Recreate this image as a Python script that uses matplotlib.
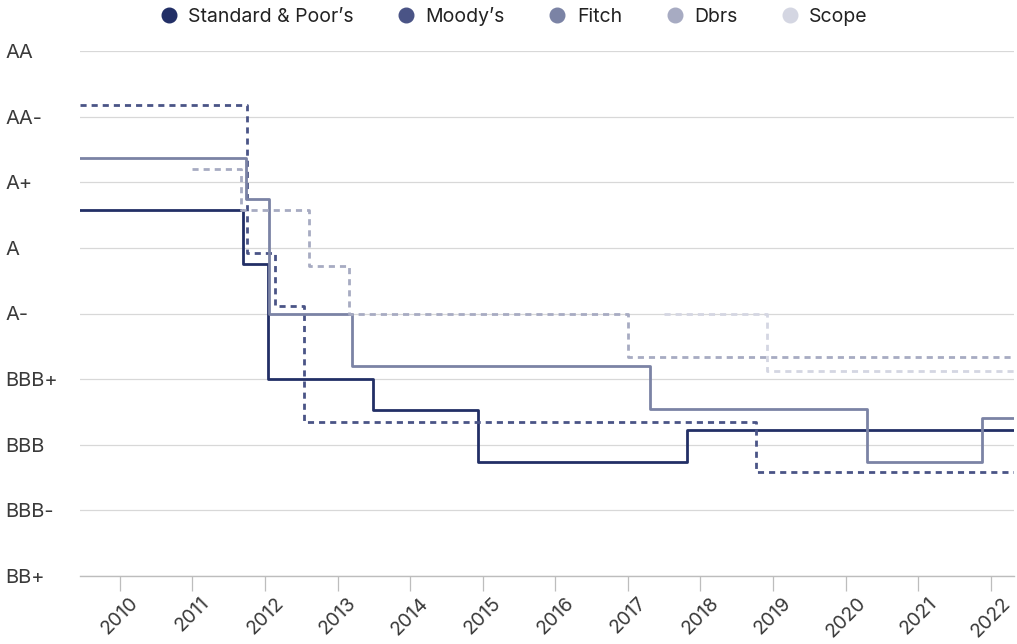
import matplotlib
matplotlib.use("Agg")
import matplotlib.pyplot as plt
from matplotlib.lines import Line2D
import numpy as np

plt.rcParams["font.family"] = ["Inter", "DejaVu Sans"]

# rating scale (BB+ = 0 ... AA = 8), values in between carry outlook nuance
rating_labels = ["BB+", "BBB-", "BBB", "BBB+", "A-", "A", "A+", "AA-", "AA"]

x_end = 2022.32

# change dates (decimal years) and rating score from that date on
sp_dates = [2009.45, 2011.69, 2012.04, 2013.49, 2014.93, 2017.82]
sp_vals = [5.58, 4.76, 3.0, 2.53, 1.74, 2.23]

moodys_dates = [2009.45, 2011.75, 2012.14, 2012.53, 2018.77]
moodys_vals = [7.17, 4.92, 4.12, 2.34, 1.58]

fitch_dates = [2009.45, 2011.74, 2012.06, 2013.20, 2017.30, 2020.30, 2021.88]
fitch_vals = [6.37, 5.75, 4.0, 3.2, 2.55, 1.74, 2.41]

dbrs_dates = [2011.0, 2011.67, 2012.60, 2013.15, 2017.0]
dbrs_vals = [6.2, 5.58, 4.73, 4.0, 3.33]

scope_dates = [2017.50, 2018.91]
scope_vals = [4.0, 3.13]

series = [
    ("Standard & Poor’s", sp_dates, sp_vals, "#222f66", "-"),
    ("Moody’s", moodys_dates, moodys_vals, "#4a5486", (0, (2.2, 1.8))),
    ("Fitch", fitch_dates, fitch_vals, "#7b83a5", "-"),
    ("Dbrs", dbrs_dates, dbrs_vals, "#a7abc2", (0, (2.2, 1.8))),
    ("Scope", scope_dates, scope_vals, "#d4d6e2", (0, (2.2, 1.8))),
]

years = list(range(2010, 2023))

fig = plt.figure(figsize=(10.17, 6.44), dpi=100)
ax = fig.add_axes([80 / 1017, 1 - 576 / 644, (1014 - 80) / 1017, (576 - 51) / 644])

for name, d, v, color, ls in series:
    xs = list(d) + [x_end]
    ys = list(v) + [v[-1]]
    ax.step(xs, ys, where="post", color=color, lw=2.0, linestyle=ls, zorder=3)

ax.set_xlim(2009.45, x_end)
ax.set_ylim(0, 8)

ax.set_yticks(range(len(rating_labels)))
ax.set_yticklabels(rating_labels, fontsize=14.5, color="#3a3a3a", ha="left")
ax.tick_params(axis="y", length=0, pad=54)
ax.yaxis.grid(True, color="#d8d8d8", lw=0.9)
ax.set_axisbelow(True)

ax.set_xticks(years)
ax.set_xticklabels([str(y) for y in years], rotation=45, fontsize=14,
                   color="#3a3a3a", ha="center", va="top")
ax.tick_params(axis="x", length=11, width=0.9, color="#bdbdbd", pad=2)

for side in ["top", "right", "left"]:
    ax.spines[side].set_visible(False)
ax.spines["bottom"].set_color("#bdbdbd")
ax.spines["bottom"].set_linewidth(1.0)

handles = [Line2D([], [], marker="o", linestyle="none", markersize=10.5,
                  markerfacecolor=c, markeredgecolor=c) for _, _, _, c, _ in series]
fig.legend(handles, [s[0] for s in series], loc="upper center",
           bbox_to_anchor=(0.5, 1.016), ncol=5, frameon=False, fontsize=14,
           handletextpad=0.0, columnspacing=1.7, labelcolor="#222222")

fig.savefig("out.png", dpi=100)
